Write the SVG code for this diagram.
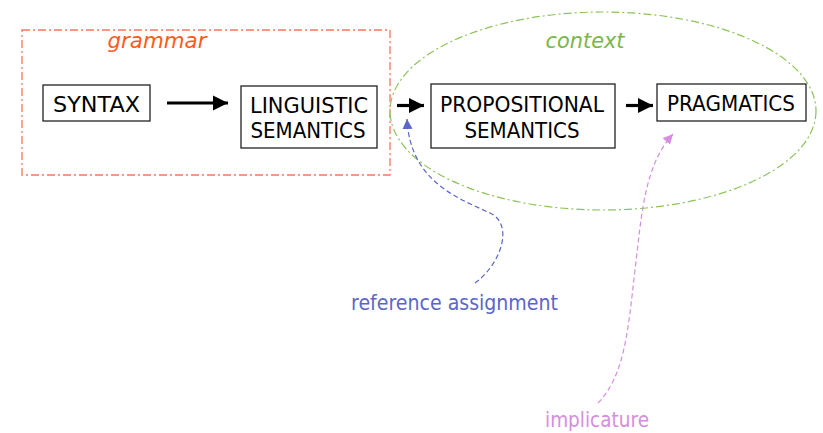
<svg xmlns="http://www.w3.org/2000/svg" width="823" height="433" viewBox="0 0 823 433">
<style>
.box{fill:#fff;stroke:#222;stroke-width:1.3}
.lbl{font-family:"DejaVu Sans",Verdana,sans-serif;font-size:22px;fill:#000;text-anchor:middle}
.it{font-family:"DejaVu Sans",Verdana,sans-serif;font-size:22px;font-style:italic;text-anchor:middle}
.note{font-family:"DejaVu Sans",Verdana,sans-serif;font-size:20.5px;text-anchor:middle}
.blk{stroke:#000;stroke-width:3.2;fill:none}
</style>
<defs>
<marker id="ah" markerUnits="userSpaceOnUse" markerWidth="17" markerHeight="17" refX="15" refY="8" orient="auto"><path d="M0,0.5 L15,8 L0,15.5 Z" fill="#000"/></marker>
<marker id="bh" markerUnits="userSpaceOnUse" markerWidth="12" markerHeight="12" refX="10" refY="5" orient="auto"><path d="M0,0 L10,5 L0,10 Z" fill="#5b66c8"/></marker>
<marker id="ph" markerUnits="userSpaceOnUse" markerWidth="12" markerHeight="12" refX="10" refY="5" orient="auto"><path d="M0,0 L10,5 L0,10 Z" fill="#d58ee0"/></marker>
</defs>
<g id="grammar">
<rect x="22" y="30" width="368" height="145" fill="none" stroke="#f2785a" stroke-width="1.3" stroke-dasharray="8,3,2,3"/>
<text class="it" x="157" y="48" fill="#ff5a1a" textLength="99" lengthAdjust="spacingAndGlyphs">grammar</text>
</g>
<g id="context">
<ellipse cx="603" cy="111" rx="213" ry="99" fill="none" stroke="#8cc45a" stroke-width="1.2" stroke-dasharray="8,3,2,3"/>
<text class="it" x="585" y="48" fill="#7ab648" textLength="79" lengthAdjust="spacingAndGlyphs">context</text>
</g>
<g id="syntax">
<rect class="box" x="43" y="85" width="107" height="36"/>
<text class="lbl" x="96.5" y="111.5" textLength="87" lengthAdjust="spacingAndGlyphs">SYNTAX</text>
</g>
<g id="linguistic-semantics">
<rect class="box" x="241" y="86" width="136" height="62"/>
<text class="lbl" x="309" y="112.5" textLength="118" lengthAdjust="spacingAndGlyphs">LINGUISTIC</text>
<text class="lbl" x="308" y="138" textLength="115" lengthAdjust="spacingAndGlyphs">SEMANTICS</text>
</g>
<g id="propositional-semantics">
<rect class="box" x="431" y="84" width="184" height="64"/>
<text class="lbl" x="522" y="111.5" textLength="164" lengthAdjust="spacingAndGlyphs">PROPOSITIONAL</text>
<text class="lbl" x="522" y="137.5" textLength="115" lengthAdjust="spacingAndGlyphs">SEMANTICS</text>
</g>
<g id="pragmatics">
<rect class="box" x="657" y="84" width="149" height="37"/>
<text class="lbl" x="731" y="111" textLength="128" lengthAdjust="spacingAndGlyphs">PRAGMATICS</text>
</g>
<g id="reference-assignment">
<text class="note" x="454.5" y="310" fill="#5b66c8" textLength="207" lengthAdjust="spacingAndGlyphs">reference assignment</text>
</g>
<g id="implicature">
<text class="note" x="597" y="427" fill="#d58ee0" textLength="104" lengthAdjust="spacingAndGlyphs">implicature</text>
</g>
<g id="connectors">
<line class="blk" x1="167" y1="103" x2="228" y2="103" marker-end="url(#ah)"/>
<line class="blk" x1="397" y1="105.5" x2="424" y2="105.5" marker-end="url(#ah)"/>
<line class="blk" x1="626" y1="105.5" x2="653" y2="105.5" marker-end="url(#ah)"/>
<path d="M475,283 C500,265 515,225 490,213 C455,197 410,180 407,119" fill="none" stroke="#5b66c8" stroke-width="1.2" stroke-dasharray="5,3" marker-end="url(#bh)"/>
<path d="M598,403 C625,375 628,330 635,270 C642,210 645,165 673,134" fill="none" stroke="#d58ee0" stroke-width="1.2" stroke-dasharray="5,3" marker-end="url(#ph)"/>
</g>
</svg>
